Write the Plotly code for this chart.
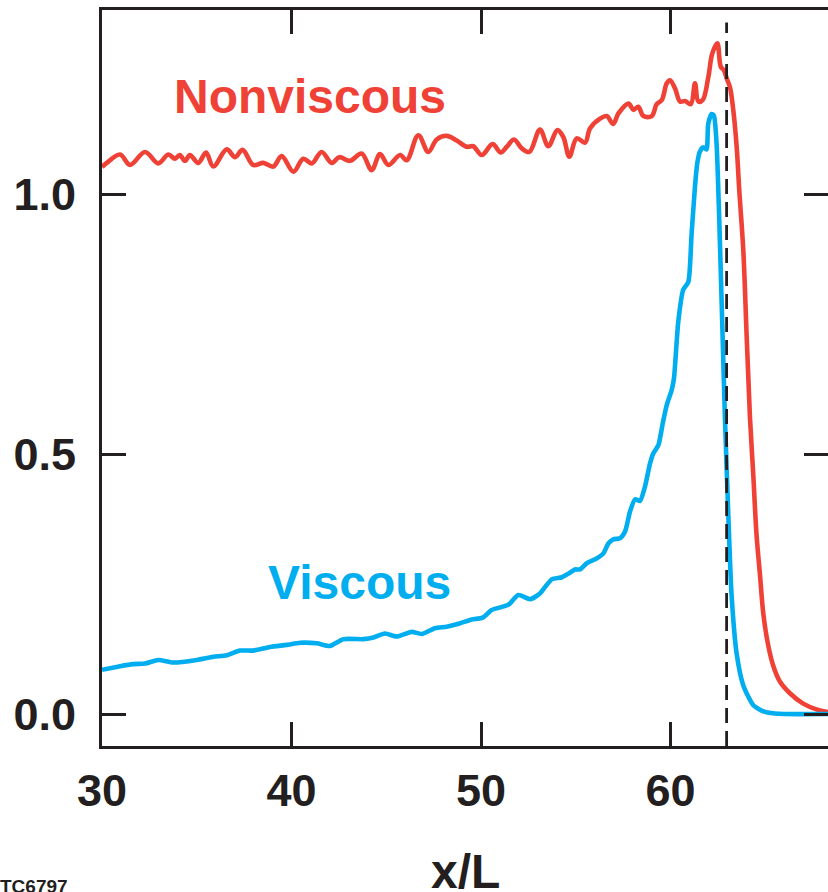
import plotly.graph_objects as go

# ---- data ----
nonviscous_x = [30.0, 30.25, 30.95, 31.48, 32.27, 32.97, 33.5, 33.85, 34.1, 34.38, 34.64, 35.08, 35.49, 35.87,
                36.58, 37.02, 37.42, 37.98, 38.51, 39.04, 39.48, 40.1, 40.62, 41.07, 41.59, 42.12, 42.52, 43.09,
                43.7, 44.23, 44.67, 45.11, 45.73, 46.08, 46.69, 47.22, 47.66, 48.19, 48.72, 49.25, 49.59, 50.04,
                50.61, 51.04, 51.36, 51.74, 52.15, 52.55, 53.11, 53.55, 54.03, 54.34, 54.66, 55.05, 55.49, 55.75,
                56.28, 56.63, 56.98, 57.25, 57.78, 58.04, 58.3, 58.57, 59.01, 59.27, 59.54, 59.8, 59.97, 60.24,
                60.5, 60.77, 61.07, 61.29, 61.47, 61.7, 62.0, 62.2, 62.47, 62.65, 62.82, 62.97, 63.14, 63.31,
                63.49, 63.63, 63.84, 64.02, 64.19, 64.37, 64.54, 64.72, 64.9, 65.16, 65.42, 65.78, 66.3, 67.0,
                67.7, 68.4]
nonviscous_y = [1.052, 1.06, 1.076, 1.056, 1.081, 1.059, 1.076, 1.068, 1.075, 1.064, 1.075, 1.06, 1.08, 1.053,
                1.086, 1.071, 1.085, 1.056, 1.06, 1.053, 1.073, 1.043, 1.068, 1.059, 1.081, 1.06, 1.071, 1.064,
                1.078, 1.046, 1.077, 1.056, 1.075, 1.065, 1.113, 1.081, 1.105, 1.112, 1.103, 1.091, 1.092, 1.075,
                1.096, 1.08, 1.091, 1.105, 1.088, 1.081, 1.124, 1.092, 1.123, 1.11, 1.072, 1.107, 1.099, 1.126,
                1.145, 1.15, 1.135, 1.155, 1.174, 1.162, 1.168, 1.15, 1.15, 1.173, 1.181, 1.213, 1.219, 1.203,
                1.178, 1.179, 1.173, 1.213, 1.178, 1.181, 1.226, 1.27, 1.29, 1.245, 1.238, 1.222, 1.205, 1.162,
                1.091, 1.006, 0.892, 0.725, 0.572, 0.458, 0.344, 0.268, 0.192, 0.131, 0.093, 0.062, 0.04, 0.02,
                0.009, 0.003]

viscous_x = [30.0, 30.95, 31.65, 32.27, 32.97, 33.76, 35.0, 35.87, 36.58, 37.28, 37.98, 38.87, 39.75, 40.45,
             41.33, 42.03, 42.73, 43.79, 44.32, 44.93, 45.55, 46.34, 46.87, 47.57, 48.19, 48.86, 49.42, 50.12,
             50.56, 51.44, 51.97, 52.59, 53.11, 53.73, 54.26, 54.61, 54.96, 55.22, 55.58, 56.1, 56.46, 56.72,
             56.98, 57.34, 57.6, 57.86, 58.13, 58.39, 58.65, 58.92, 59.09, 59.36, 59.59, 59.8, 60.06, 60.18,
             60.41, 60.67, 60.94, 61.11, 61.29, 61.41, 61.55, 61.73, 61.9, 61.99, 62.17, 62.29, 62.43, 62.57,
             62.75, 62.87, 63.05, 63.22, 63.49, 63.84, 64.37, 64.9, 65.5, 66.0, 68.4]
viscous_y = [0.085, 0.092, 0.096, 0.097, 0.104, 0.099, 0.104, 0.11, 0.113, 0.122, 0.122, 0.129, 0.133, 0.137,
             0.136, 0.131, 0.144, 0.144, 0.147, 0.155, 0.149, 0.158, 0.154, 0.165, 0.168, 0.174, 0.181, 0.186,
             0.2, 0.21, 0.229, 0.221, 0.232, 0.259, 0.263, 0.27, 0.278, 0.278, 0.29, 0.299, 0.309, 0.328,
             0.336, 0.338, 0.351, 0.389, 0.413, 0.41, 0.437, 0.482, 0.501, 0.517, 0.559, 0.594, 0.623, 0.645,
             0.755, 0.816, 0.831, 0.922, 1.014, 1.059, 1.082, 1.09, 1.086, 1.135, 1.154, 1.151, 1.097, 0.953,
             0.725, 0.572, 0.382, 0.23, 0.116, 0.055, 0.017, 0.005, 0.001, 0.0, 0.0]

shock_x = 62.96
x_ticks = [30, 40, 50, 60]
y_ticks = [0.0, 0.5, 1.0]
y_tick_text = ["0.0", "0.5", "1.0"]

X_RANGE = [30, 68.31]
Y_RANGE = [-0.0615, 1.354]

RED = "#EF4136"
BLUE = "#00AEEF"
INK = "#231F20"
FONT = "Liberation Sans"

fig = go.Figure()
fig.add_trace(go.Scatter(x=nonviscous_x, y=nonviscous_y, mode="lines",
                         line=dict(color=RED, width=4.6, shape="spline", smoothing=1.0),
                         hoverinfo="skip", showlegend=False))
fig.add_trace(go.Scatter(x=viscous_x, y=viscous_y, mode="lines",
                         line=dict(color=BLUE, width=4.6, shape="spline", smoothing=0.6),
                         hoverinfo="skip", showlegend=False))
fig.add_trace(go.Scatter(x=[shock_x, shock_x], y=[Y_RANGE[0], 1.33], mode="lines",
                         line=dict(color=INK, width=2.8, dash="15px,8px"),
                         hoverinfo="skip", showlegend=False))
# invisible trace to carry the right-hand tick axis
fig.add_trace(go.Scatter(x=[None], y=[None], yaxis="y2", mode="lines", hoverinfo="skip", showlegend=False))

fig.update_layout(
    width=828, height=892,
    margin=dict(l=102, r=0, t=10, b=146),
    paper_bgcolor="white", plot_bgcolor="white",
    font=dict(family=FONT, color=INK),
    xaxis=dict(range=X_RANGE, tickvals=x_ticks, ticks="inside", ticklen=24, tickwidth=3,
               tickcolor=INK, showline=True, linewidth=3, linecolor=INK, mirror="ticks",
               showgrid=False, zeroline=False,
               tickfont=dict(family=FONT, size=45, color=INK, weight="bold"),
               ticklabelstandoff=3),
    yaxis=dict(range=Y_RANGE, tickvals=y_ticks, ticktext=y_tick_text, ticks="inside", ticklen=24,
               tickwidth=3, tickcolor=INK, showline=True, linewidth=3, linecolor=INK,
               showgrid=False, zeroline=False,
               tickfont=dict(family=FONT, size=45, color=INK, weight="bold"),
               ticklabelstandoff=14),
    yaxis2=dict(range=Y_RANGE, overlaying="y", side="right", tickvals=y_ticks, ticks="inside",
                ticklen=24, tickwidth=3, tickcolor=INK, showline=False, showticklabels=False,
                showgrid=False, zeroline=False),
)

fig.add_annotation(x=40.98, y=1.187, xref="x", yref="y", text="Nonviscous", showarrow=False,
                   font=dict(family=FONT, size=48, color=RED, weight="bold"),
                   xanchor="center", yanchor="middle")
fig.add_annotation(x=43.6, y=0.252, xref="x", yref="y", text="Viscous", showarrow=False,
                   font=dict(family=FONT, size=48, color=BLUE, weight="bold"),
                   xanchor="center", yanchor="middle")
fig.add_annotation(x=0.5, y=-0.132, xref="paper", yref="paper", text="x/L", showarrow=False,
                   font=dict(family=FONT, size=48, color=INK, weight="bold"),
                   xanchor="center", yanchor="top")
fig.add_annotation(x=-0.143, y=-0.174, xref="paper", yref="paper", text="TC6797", showarrow=False,
                   font=dict(family=FONT, size=19, color=INK, weight="bold"),
                   xanchor="left", yanchor="top")

fig.write_html("out.html")
